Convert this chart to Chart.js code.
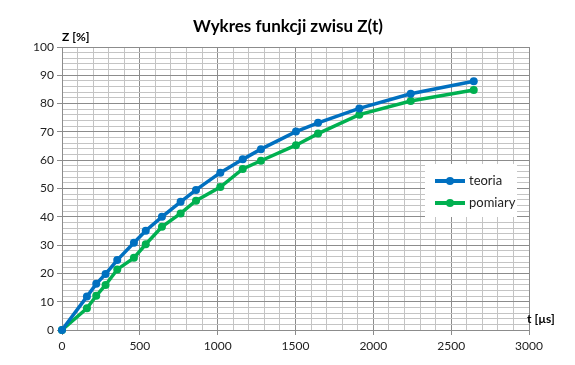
<!DOCTYPE html>
<html>
<head>
<meta charset="utf-8">
<script src="https://cdn.jsdelivr.net/npm/chart.js@4/dist/chart.umd.min.js"></script>
<style>
    html, body { margin: 0; padding: 0; background: #fff; }
    #wrap { width: 575px; height: 365px; position: relative; }
</style>
</head>
<body>
<div id="wrap"><canvas id="chart"></canvas></div>
<script>
// Czas pomiaru [µs]
const times = [0, 160, 220, 280, 355, 462, 538, 642, 762, 861, 1017, 1161, 1278, 1503, 1645, 1910, 2240, 2645];
// Zwis Z [%]
const teoria = [0, 11.8, 16.3, 19.8, 24.7, 30.8, 35.1, 40.0, 45.3, 49.5, 55.6, 60.3, 63.9, 70.1, 73.2, 78.3, 83.5, 87.9];
const pomiary = [0, 7.7, 12.1, 15.9, 21.4, 25.5, 30.3, 36.5, 41.2, 45.7, 50.5, 56.9, 59.8, 65.3, 69.4, 76.1, 80.9, 84.8];
const seriesNames = ['teoria', 'pomiary'];

const xTicks = [0, 500, 1000, 1500, 2000, 2500, 3000];
const yTicks = [0, 10, 20, 30, 40, 50, 60, 70, 80, 90, 100];

const blue = '#0070C0';
const green = '#00B050';
const majorGrid = '#8c8c8c';
const minorGrid = '#c4c4c4';
const font = 'Lato, "DejaVu Sans", sans-serif';

const toPoints = (ys) => times.map((t, i) => ({ x: t, y: ys[i] }));

// Title, axis titles and legend drawn on top
const overlay = {
    id: 'overlay',
    afterDraw(chart) {
        const ctx = chart.ctx;
        const area = chart.chartArea;
        ctx.save();
        ctx.fillStyle = '#000';
        ctx.textBaseline = 'middle';

        ctx.font = 'bold 17px ' + font;
        ctx.textAlign = 'center';
        ctx.fillText('Wykres funkcji zwisu Z(t)', 288, 27);

        ctx.font = 'bold 12px ' + font;
        ctx.textAlign = 'left';
        ctx.fillText('Z [%]', area.left, area.top - 10);
        ctx.fillText('t [µs]', 527, area.bottom - 11);

        // legend
        ctx.fillStyle = '#fff';
        ctx.fillRect(425, 164, 92, 53);
        chart.data.datasets.forEach((ds, i) => {
            const y = 181 + i * 22;
            ctx.strokeStyle = ds.borderColor;
            ctx.lineWidth = 4;
            ctx.beginPath();
            ctx.moveTo(435, y);
            ctx.lineTo(465, y);
            ctx.stroke();
            ctx.fillStyle = ds.borderColor;
            ctx.beginPath();
            ctx.arc(450, y, 4, 0, Math.PI * 2);
            ctx.fill();
            ctx.fillStyle = '#222';
            ctx.font = '13px ' + font;
            ctx.fillText(ds.label, 469, y);
        });
        ctx.restore();
    }
};

const chart = new Chart(document.getElementById('chart'), {
    type: 'scatter',
    data: {
        datasets: [
            {
                label: seriesNames[0],
                data: toPoints(teoria),
                borderColor: blue,
                backgroundColor: blue,
                showLine: true,
                borderWidth: 3.5,
                pointRadius: 4,
                pointBorderWidth: 0,
                pointHoverRadius: 4,
                clip: false
            },
            {
                label: seriesNames[1],
                data: toPoints(pomiary),
                borderColor: green,
                backgroundColor: green,
                showLine: true,
                borderWidth: 3.5,
                pointRadius: 4,
                pointBorderWidth: 0,
                pointHoverRadius: 4,
                clip: false
            }
        ]
    },
    options: {
        responsive: true,
        maintainAspectRatio: false,
        animation: false,
        layout: { padding: { top: 47, right: 46, left: 0, bottom: 0 } },
        plugins: {
            legend: { display: false },
            title: { display: false },
            tooltip: { enabled: false }
        },
        scales: {
            x: {
                type: 'linear',
                min: 0,
                max: 3000,
                afterFit: (scale) => { scale.height = 35; },
                ticks: {
                    stepSize: 100,
                    autoSkip: false,
                    maxRotation: 0,
                    maxTicksLimit: 100,
                    padding: 4,
                    color: '#222',
                    font: { family: font, size: 12 },
                    callback: (v) => xTicks.includes(v) ? String(v) : ''
                },
                grid: {
                    color: (c) => xTicks.includes(c.tick.value) ? majorGrid : minorGrid,
                    tickColor: (c) => xTicks.includes(c.tick.value) ? majorGrid : 'rgba(0,0,0,0)',
                    tickLength: 5,
                    lineWidth: 1
                },
                border: { color: majorGrid }
            },
            y: {
                min: 0,
                max: 100,
                afterFit: (scale) => { scale.width = 62; },
                ticks: {
                    stepSize: 2,
                    autoSkip: false,
                    maxTicksLimit: 100,
                    padding: 3,
                    color: '#222',
                    font: { family: font, size: 12 },
                    callback: (v) => yTicks.includes(v) ? String(v) : ''
                },
                grid: {
                    color: (c) => yTicks.includes(c.tick.value) ? majorGrid : minorGrid,
                    tickColor: (c) => yTicks.includes(c.tick.value) ? majorGrid : 'rgba(0,0,0,0)',
                    tickLength: 5,
                    lineWidth: 1
                },
                border: { color: majorGrid }
            }
        }
    },
    plugins: [overlay]
});
</script>
</body>
</html>
